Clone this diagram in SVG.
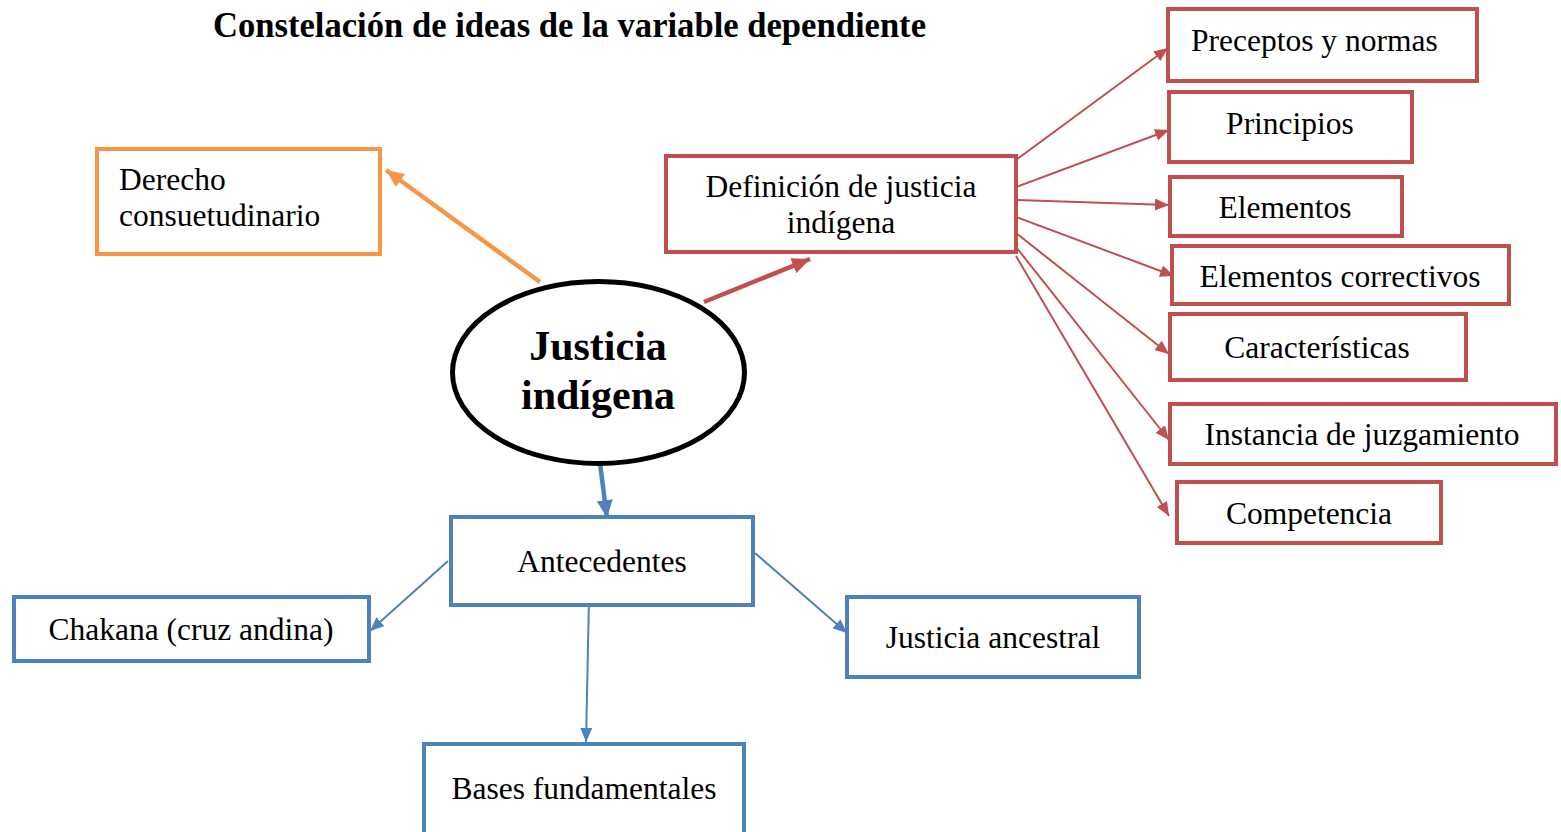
<svg xmlns="http://www.w3.org/2000/svg" width="1561" height="832" viewBox="0 0 1561 832">
<style>
text{font-family:"Liberation Serif","Times New Roman",serif;fill:#000}
.t{font-size:31.5px}
.c{text-anchor:middle}
.or{fill:#fff;stroke:#F79646;stroke-width:4}
.rd{fill:#fff;stroke:#C0504D;stroke-width:4}
.bl{fill:#fff;stroke:#4F81BD;stroke-width:4}
.lr{stroke:#C0504D;stroke-width:2;fill:none}
.lb{stroke:#4F81BD;stroke-width:2;fill:none}
</style>
<defs>
<marker id="hr" markerUnits="userSpaceOnUse" markerWidth="14" markerHeight="12" refX="14" refY="6" orient="auto"><path d="M0,0L14,6L0,12z" fill="#C0504D"/></marker>
<marker id="hb" markerUnits="userSpaceOnUse" markerWidth="14" markerHeight="12" refX="14" refY="6" orient="auto"><path d="M0,0L14,6L0,12z" fill="#4F81BD"/></marker>
<marker id="Hr" markerUnits="userSpaceOnUse" markerWidth="18" markerHeight="16" refX="18" refY="8" orient="auto"><path d="M0,0L18,8L0,16z" fill="#C0504D"/></marker>
<marker id="Hb" markerUnits="userSpaceOnUse" markerWidth="18" markerHeight="16" refX="18" refY="8" orient="auto"><path d="M0,0L18,8L0,16z" fill="#4F81BD"/></marker>
<marker id="Ho" markerUnits="userSpaceOnUse" markerWidth="18" markerHeight="16" refX="18" refY="8" orient="auto"><path d="M0,0L18,8L0,16z" fill="#F79646"/></marker>
</defs>
<rect width="1561" height="832" fill="#fff"/>
<text x="213" y="37" font-size="36" font-weight="bold" textLength="713" lengthAdjust="spacingAndGlyphs">Constelación de ideas de la variable dependiente</text>

<g id="connectors">
<line x1="540" y1="282" x2="386" y2="170" stroke="#F79646" stroke-width="4.5" marker-end="url(#Ho)"/>
<line x1="704" y1="302" x2="810" y2="259" stroke="#C0504D" stroke-width="4.5" marker-end="url(#Hr)"/>
<line x1="600" y1="463" x2="607" y2="518" stroke="#4F81BD" stroke-width="4.5" marker-end="url(#Hb)"/>
<line class="lr" x1="1016" y1="160" x2="1168" y2="48" marker-end="url(#hr)"/>
<line class="lr" x1="1016" y1="187" x2="1169" y2="130" marker-end="url(#hr)"/>
<line class="lr" x1="1017" y1="200" x2="1169" y2="205" marker-end="url(#hr)"/>
<line class="lr" x1="1016" y1="217" x2="1174" y2="276" marker-end="url(#hr)"/>
<line class="lr" x1="1016" y1="233" x2="1169" y2="354" marker-end="url(#hr)"/>
<line class="lr" x1="1016" y1="247" x2="1169" y2="440" marker-end="url(#hr)"/>
<line class="lr" x1="1016" y1="256" x2="1169" y2="516" marker-end="url(#hr)"/>
<line class="lb" x1="448" y1="561" x2="370" y2="631" marker-end="url(#hb)"/>
<line class="lb" x1="755" y1="553" x2="847" y2="633" marker-end="url(#hb)"/>
<line class="lb" x1="589" y1="598" x2="586" y2="742" marker-end="url(#hb)"/>
</g>

<g id="derecho">
<rect class="or" x="97" y="149" width="283" height="105"/>
<text class="t" x="119" y="190">Derecho</text>
<text class="t" x="119" y="226">consuetudinario</text>
</g>

<g id="justicia">
<ellipse cx="598.5" cy="372.5" rx="146" ry="91" fill="#fff" stroke="#000" stroke-width="5"/>
<text class="c" x="598" y="360" font-size="42" font-weight="bold">Justicia</text>
<text class="c" x="598" y="409" font-size="42" font-weight="bold">indígena</text>
</g>

<g id="definicion">
<rect class="rd" x="666" y="156" width="350" height="96"/>
<text class="t c" x="841" y="197">Definición de justicia</text>
<text class="t c" x="841" y="233">indígena</text>
</g>

<g id="preceptos">
<rect class="rd" x="1168" y="9" width="309" height="72"/>
<text class="t" x="1191" y="51">Preceptos y normas</text>
</g>
<g id="principios">
<rect class="rd" x="1169" y="92" width="243" height="70"/>
<text class="t c" x="1290" y="134">Principios</text>
</g>
<g id="elementos">
<rect class="rd" x="1170" y="177" width="232" height="59"/>
<text class="t c" x="1285" y="218">Elementos</text>
</g>
<g id="correctivos">
<rect class="rd" x="1172" y="246" width="337" height="58"/>
<text class="t c" x="1340" y="287">Elementos correctivos</text>
</g>
<g id="caracteristicas">
<rect class="rd" x="1170" y="314" width="296" height="66"/>
<text class="t c" x="1317" y="358">Características</text>
</g>
<g id="instancia">
<rect class="rd" x="1170" y="404" width="386" height="60"/>
<text class="t c" x="1362" y="445">Instancia de juzgamiento</text>
</g>
<g id="competencia">
<rect class="rd" x="1177" y="482" width="264" height="61"/>
<text class="t c" x="1309" y="524">Competencia</text>
</g>

<g id="antecedentes">
<rect class="bl" x="451" y="517" width="302" height="88"/>
<text class="t c" x="602" y="572">Antecedentes</text>
</g>
<g id="chakana">
<rect class="bl" x="14" y="597" width="355" height="64"/>
<text class="t c" x="191" y="640">Chakana (cruz andina)</text>
</g>
<g id="ancestral">
<rect class="bl" x="847" y="597" width="292" height="80"/>
<text class="t c" x="993" y="648">Justicia ancestral</text>
</g>
<g id="bases">
<rect class="bl" x="424" y="744" width="320" height="92"/>
<text class="t c" x="584" y="799">Bases fundamentales</text>
</g>
</svg>
